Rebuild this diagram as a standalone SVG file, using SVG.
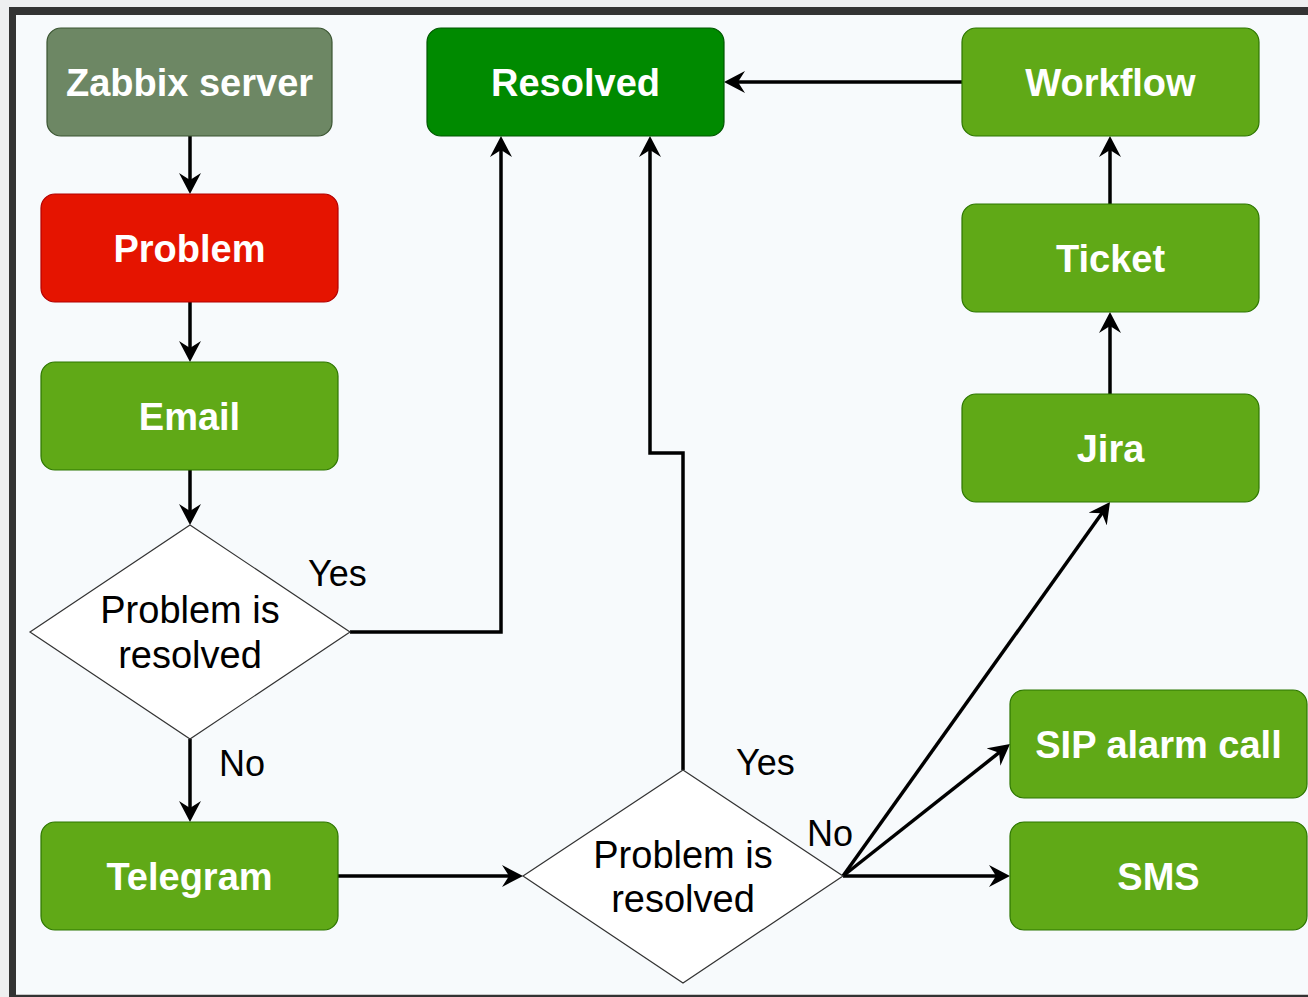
<svg xmlns="http://www.w3.org/2000/svg" width="1308" height="997" viewBox="0 0 1308 997">
  <defs>
    <style>
      .box { stroke-width: 1.2; }
      .grn { fill: #60a917; stroke: #2d7600; }
      .lbl { font-family: "Liberation Sans", Arial, sans-serif; font-size: 38px; font-weight: bold; fill: #ffffff; text-anchor: middle; }
      .dtx { font-family: "Liberation Sans", Arial, sans-serif; font-size: 38px; fill: #000000; text-anchor: middle; }
      .edl { font-family: "Liberation Sans", Arial, sans-serif; font-size: 36px; fill: #000000; }
      .dia { fill: #ffffff; stroke: #333333; stroke-width: 1.2; }
      .edge { fill: none; stroke: #000000; stroke-width: 3.5; marker-end: url(#arrow); }
    </style>
    <marker id="arrow" markerUnits="userSpaceOnUse" markerWidth="22" markerHeight="22" viewBox="0 0 22 22" refX="11" refY="11" orient="auto">
      <path d="M0,0 L21,11 L0,22 L7,11 Z" fill="#000000"/>
    </marker>
  </defs>

  <rect x="0" y="0" width="1308" height="997" fill="#eeeff0"/>
  <rect x="9" y="7" width="1299" height="990" fill="#333333"/>
  <rect x="16" y="15" width="1292" height="979" fill="#f7fafc"/>
  <rect x="16" y="994" width="1292" height="1" fill="#c8c8c8"/>

  <g id="edges">
    <path class="edge" d="M190,136 V184"/>
    <path class="edge" d="M190,302 V352"/>
    <path class="edge" d="M190,470 V515"/>
    <path class="edge" d="M190,739 V812"/>
    <path class="edge" d="M350,632 H501 V146"/>
    <path class="edge" d="M338,876 H513"/>
    <path class="edge" d="M683,770 V453 H650 V146"/>
    <path class="edge" d="M843,876 L1104.2,510.1"/>
    <path class="edge" d="M843,876 L1002.2,750.2"/>
    <path class="edge" d="M843,876 H1000"/>
    <path class="edge" d="M1110,394 V322"/>
    <path class="edge" d="M1110,204 V146"/>
    <path class="edge" d="M962,82 H734"/>
    <text class="edl" x="308" y="586">Yes</text>
    <text class="edl" x="219" y="776">No</text>
    <text class="edl" x="736" y="775">Yes</text>
    <text class="edl" x="807" y="846">No</text>
  </g>

  <g id="zabbix">
    <rect class="box" x="47" y="28" width="285" height="108" rx="14" fill="#6d8764" stroke="#3a5431"/>
    <text class="lbl" x="189.5" y="95.5">Zabbix server</text>
  </g>
  <g id="problem">
    <rect class="box" x="41" y="194" width="297" height="108" rx="14" fill="#e51400" stroke="#b20000"/>
    <text class="lbl" x="189.5" y="261.5">Problem</text>
  </g>
  <g id="email">
    <rect class="box grn" x="41" y="362" width="297" height="108" rx="14"/>
    <text class="lbl" x="189.5" y="429.5">Email</text>
  </g>
  <g id="decision1">
    <polygon class="dia" points="190,525 350,632 190,739 30,632"/>
    <text class="dtx" x="190" y="623">Problem is</text>
    <text class="dtx" x="190" y="668">resolved</text>
  </g>
  <g id="telegram">
    <rect class="box grn" x="41" y="822" width="297" height="108" rx="14"/>
    <text class="lbl" x="189.5" y="889.5">Telegram</text>
  </g>
  <g id="decision2">
    <polygon class="dia" points="683,770 843,876 683,983 523,876"/>
    <text class="dtx" x="683" y="868">Problem is</text>
    <text class="dtx" x="683" y="912">resolved</text>
  </g>
  <g id="resolved">
    <rect class="box" x="427" y="28" width="297" height="108" rx="14" fill="#008a00" stroke="#005700"/>
    <text class="lbl" x="575.5" y="95.5">Resolved</text>
  </g>
  <g id="workflow">
    <rect class="box grn" x="962" y="28" width="297" height="108" rx="14"/>
    <text class="lbl" x="1110.5" y="95.5">Workflow</text>
  </g>
  <g id="ticket">
    <rect class="box grn" x="962" y="204" width="297" height="108" rx="14"/>
    <text class="lbl" x="1110.5" y="271.5">Ticket</text>
  </g>
  <g id="jira">
    <rect class="box grn" x="962" y="394" width="297" height="108" rx="14"/>
    <text class="lbl" x="1110.5" y="461.5">Jira</text>
  </g>
  <g id="sip">
    <rect class="box grn" x="1010" y="690" width="297" height="108" rx="14"/>
    <text class="lbl" x="1158.5" y="757.5">SIP alarm call</text>
  </g>
  <g id="sms">
    <rect class="box grn" x="1010" y="822" width="297" height="108" rx="14"/>
    <text class="lbl" x="1158.5" y="889.5">SMS</text>
  </g>
</svg>
